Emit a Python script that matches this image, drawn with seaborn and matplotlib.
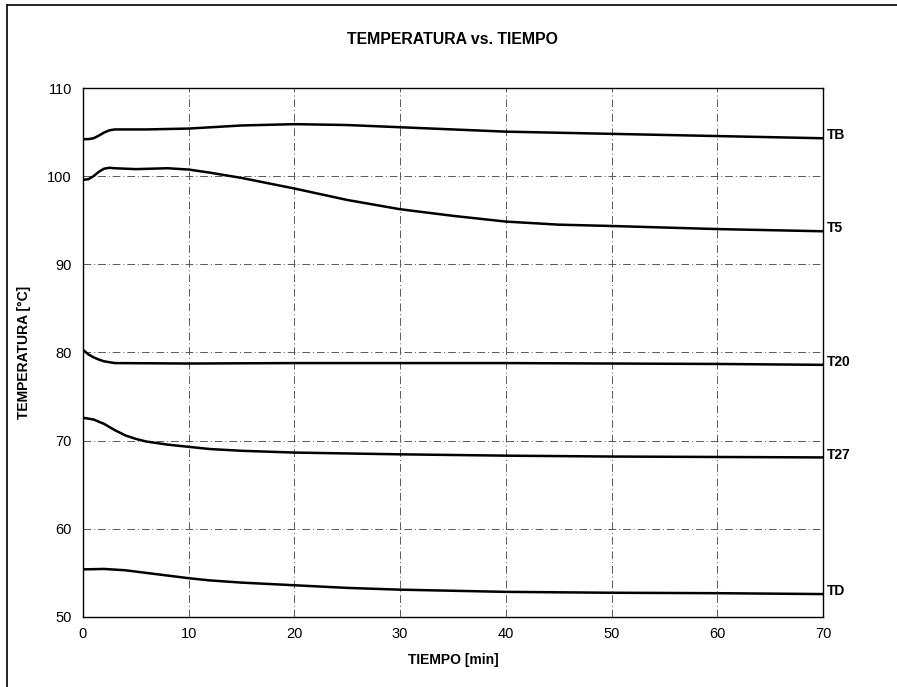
import numpy as np
import pandas as pd
import matplotlib
matplotlib.use("Agg")
import matplotlib.pyplot as plt
import seaborn as sns
from matplotlib.lines import Line2D

# ---- data ----
t_TB = [0, 0.5, 1, 1.5, 2, 2.5, 3, 4, 6, 10, 15, 20, 25, 30, 35, 40, 50, 60, 70]
v_TB = [104.2, 104.2, 104.3, 104.6, 104.95, 105.2, 105.3, 105.3, 105.3, 105.4, 105.75, 105.9,
        105.8, 105.55, 105.3, 105.05, 104.8, 104.55, 104.3]

t_T5 = [0, 0.5, 1, 1.5, 2, 2.5, 3, 5, 8, 10, 12, 15, 20, 25, 30, 35, 40, 45, 50, 60, 70]
v_T5 = [99.6, 99.65, 100.0, 100.5, 100.85, 100.95, 100.9, 100.8, 100.9, 100.75, 100.4, 99.8,
        98.6, 97.3, 96.25, 95.5, 94.85, 94.5, 94.35, 94.0, 93.75]

t_T20 = [0, 0.5, 1, 1.5, 2, 3, 10, 20, 30, 40, 50, 60, 70]
v_T20 = [80.3, 79.8, 79.45, 79.2, 79.0, 78.8, 78.75, 78.8, 78.8, 78.8, 78.75, 78.7, 78.6]

t_T27 = [0, 1, 2, 3, 4, 5, 6, 8, 10, 12, 15, 20, 30, 40, 50, 60, 70]
v_T27 = [72.6, 72.4, 71.9, 71.2, 70.6, 70.2, 69.9, 69.55, 69.3, 69.05, 68.85, 68.65, 68.45,
         68.3, 68.2, 68.15, 68.1]

t_TD = [0, 2, 4, 6, 8, 10, 12, 15, 20, 25, 30, 40, 50, 60, 70]
v_TD = [55.4, 55.45, 55.3, 55.0, 54.7, 54.4, 54.15, 53.9, 53.6, 53.3, 53.1, 52.85, 52.75, 52.7, 52.6]

series_names = ["TB", "T5", "T20", "T27", "TD"]
series_t = [t_TB, t_T5, t_T20, t_T27, t_TD]
series_v = [v_TB, v_T5, v_T20, v_T27, v_TD]

x_ticks = [0, 10, 20, 30, 40, 50, 60, 70]
y_ticks = [50, 60, 70, 80, 90, 100, 110]

title = "TEMPERATURA vs. TIEMPO"
xlabel = "TIEMPO [min]"
ylabel = "TEMPERATURA [°C]"

frames = []
for name, t, v in zip(series_names, series_t, series_v):
    frames.append(pd.DataFrame({"t": t, "T": v, "serie": name}))
df = pd.concat(frames, ignore_index=True)

# ---- plotting ----
sns.set_theme(style="white")
plt.rcParams["font.family"] = ["Liberation Sans", "DejaVu Sans"]
plt.rcParams["text.color"] = "black"
plt.rcParams["axes.labelcolor"] = "black"

fig = plt.figure(figsize=(8.97, 6.87), dpi=100)
ax = fig.add_axes([0.0925, 0.1019, 0.825, 0.770])

# grid
for y in y_ticks[1:-1]:
    ax.axhline(y, color="0.35", lw=0.7, ls=(0, (8, 3, 1, 3)), zorder=1)
for x in x_ticks[1:-1]:
    ax.axvline(x, color="0.35", lw=0.7, ls=(0, (8, 3, 1, 3)), zorder=1)

sns.lineplot(data=df, x="t", y="T", units="serie", estimator=None,
             color="black", lw=1.8, ax=ax, sort=False, legend=False, zorder=3)

ax.set_xlim(0, 70)
ax.set_ylim(50, 110)
ax.set_xticks(x_ticks)
ax.set_yticks(y_ticks)
ax.tick_params(axis="both", labelsize=10.5, colors="black", length=3,
               width=0.6, direction="out", pad=5)
ax.tick_params(axis="x", length=0, pad=7)
for s in ax.spines.values():
    s.set_color("black")
    s.set_linewidth(1.0)

ax.set_xlabel(xlabel, fontsize=10, fontweight="bold", labelpad=9, color="black")
ax.set_ylabel(ylabel, fontsize=10, fontweight="bold", labelpad=12, color="black")
fig.text(0.504, 0.943, title, ha="center", va="center", fontsize=11.4,
         fontweight="bold", color="black")

# series labels at the right end
for name, v in zip(series_names, series_v):
    ax.annotate(name, xy=(70, v[-1]), xytext=(3, 2), textcoords="offset points",
                ha="left", va="center", fontsize=10, fontweight="bold",
                color="black", annotation_clip=False)

# figure border (left and top edge of the scanned frame)
fig.add_artist(Line2D([7 / 897, 7 / 897], [0.0, 1 - 5 / 687], transform=fig.transFigure,
                      color="black", lw=1.2))
fig.add_artist(Line2D([7 / 897, 1.0], [1 - 5 / 687, 1 - 5 / 687], transform=fig.transFigure,
                      color="black", lw=1.2))

fig.savefig("out.png", dpi=100, facecolor="white")
